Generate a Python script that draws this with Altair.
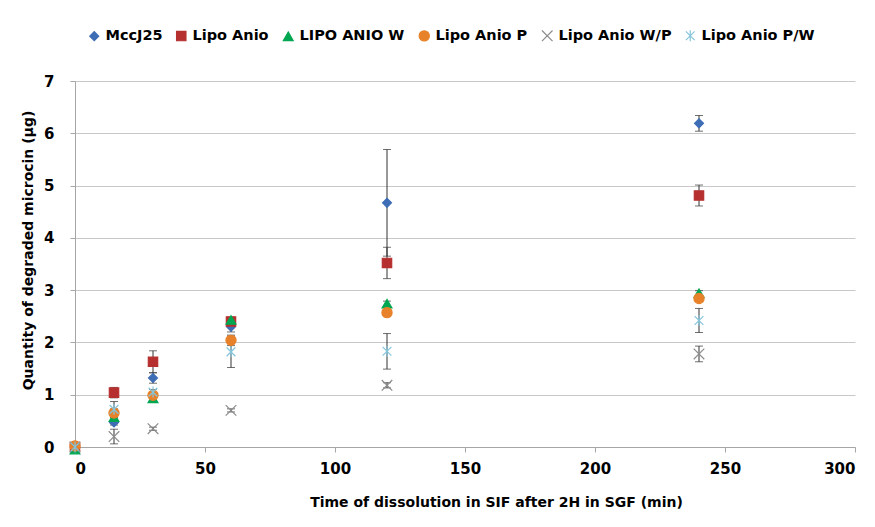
import altair as alt
import pandas as pd

times = [0, 15, 30, 60, 120, 240]
series = ["MccJ25", "Lipo Anio", "LIPO ANIO W", "Lipo Anio P", "Lipo Anio W/P", "Lipo Anio P/W"]
values = {
    "MccJ25":        [0.00, 0.47, 1.32, 2.30, 4.67, 6.19],
    "Lipo Anio":     [0.00, 1.04, 1.63, 2.40, 3.52, 4.81],
    "LIPO ANIO W":   [-0.05, 0.57, 0.93, 2.43, 2.74, 2.94],
    "Lipo Anio P":   [0.02, 0.65, 0.99, 2.04, 2.57, 2.84],
    "Lipo Anio W/P": [0.00, 0.20, 0.35, 0.70, 1.18, 1.78],
    "Lipo Anio P/W": [0.00, 0.72, 1.05, 1.82, 1.83, 2.42],
}
errors = {
    "MccJ25":        [0.0, 0.05, 0.10, 0.10, 1.02, 0.15],
    "Lipo Anio":     [0.0, 0.10, 0.21, 0.08, 0.30, 0.20],
    "LIPO ANIO W":   [0.0, 0.05, 0.05, 0.05, 0.05, 0.05],
    "Lipo Anio P":   [0.0, 0.08, 0.05, 0.10, 0.05, 0.05],
    "Lipo Anio W/P": [0.0, 0.14, 0.03, 0.03, 0.05, 0.15],
    "Lipo Anio P/W": [0.0, 0.15, 0.05, 0.30, 0.34, 0.23],
}
colors = ["#3D6DB5", "#B5302F", "#00A651", "#E8822A", "#8C8C8C", "#86C5DB"]
shapes = [
    "diamond", "square", "triangle-up", "circle",
    "M-1,-1L1,1M1,-1L-1,1",
    "M0,-1L0,1M-0.8,-0.8L0.8,0.8M0.8,-0.8L-0.8,0.8",
]
sizes = [80, 120, 120, 120, 80, 90]

rows = []
for si, s in enumerate(series):
    for t, v, e in zip(times, values[s], errors[s]):
        rows.append({"t": t, "v": v, "lo": v - e, "hi": v + e, "err": e,
                     "series": s, "order": si})
df = pd.DataFrame(rows)

font = "DejaVu Sans"
xs = alt.X("t:Q", scale=alt.Scale(domain=[0, 300], nice=False),
           axis=alt.Axis(values=[0, 50, 100, 150, 200, 250, 300], grid=False, format="d",
                         title="Time of dissolution in SIF after 2H in SGF (min)",
                         titlePadding=19, labelPadding=9, titleX=421))
ys = alt.Y("v:Q", scale=alt.Scale(domain=[0, 7], nice=False),
           axis=alt.Axis(values=[0, 1, 2, 3, 4, 5, 6, 7], grid=True, format="d",
                         title="Quantity of degraded microcin (µg)",
                         titlePadding=8, labelPadding=16, titleY=169))

err_df = df[df["err"] > 0]
base_err = alt.Chart(err_df)
rules = base_err.mark_rule(color="#333333", strokeWidth=1).encode(
    x="t:Q", y="lo:Q", y2="hi:Q")
cap_lo = base_err.mark_tick(color="#333333", orient="horizontal", size=8, thickness=1).encode(
    x="t:Q", y="lo:Q")
cap_hi = base_err.mark_tick(color="#333333", orient="horizontal", size=8, thickness=1).encode(
    x="t:Q", y="hi:Q")

points = alt.Chart(df).mark_point(filled=True, opacity=1, strokeWidth=1.2).encode(
    x=xs, y=ys,
    color=alt.Color("series:N", scale=alt.Scale(domain=series, range=colors),
                    legend=alt.Legend(title=None, orient="none", direction="horizontal",
                                      legendX=12, legendY=-53, columns=6,
                                      labelFont=font, labelFontSize=14.5, labelFontWeight="bold",
                                      labelColor="#000000", symbolSize=80,
                                      columnPadding=11, symbolStrokeWidth=1.2,
                                      labelOffset=4)),
    shape=alt.Shape("series:N", scale=alt.Scale(domain=series, range=shapes)),
    size=alt.Size("series:N", scale=alt.Scale(domain=series, range=sizes), legend=None),
    stroke=alt.Stroke("series:N", scale=alt.Scale(domain=series, range=colors), legend=None),
    order=alt.Order("order:Q"),
)

chart = alt.layer(rules, cap_lo, cap_hi, points).properties(
    width=780, height=366,
    autosize=alt.AutoSizeParams(type="none"),
    padding={"left": 67, "top": 73, "right": 4, "bottom": 72},
).configure_view(stroke=None).configure_axis(
    labelFont=font, labelFontSize=15, labelFontWeight="bold", labelColor="#000000",
    titleFont=font, titleFontSize=14, titleFontWeight="bold", titleColor="#000000",
    domainColor="#A6A6A6", tickColor="#A6A6A6", gridColor="#C8C8C8", tickSize=5,
).configure_axisY(domain=True, ticks=True).configure_axisX(ticks=True)

chart.save("out.html", embed_options={"renderer": "svg", "actions": False})
